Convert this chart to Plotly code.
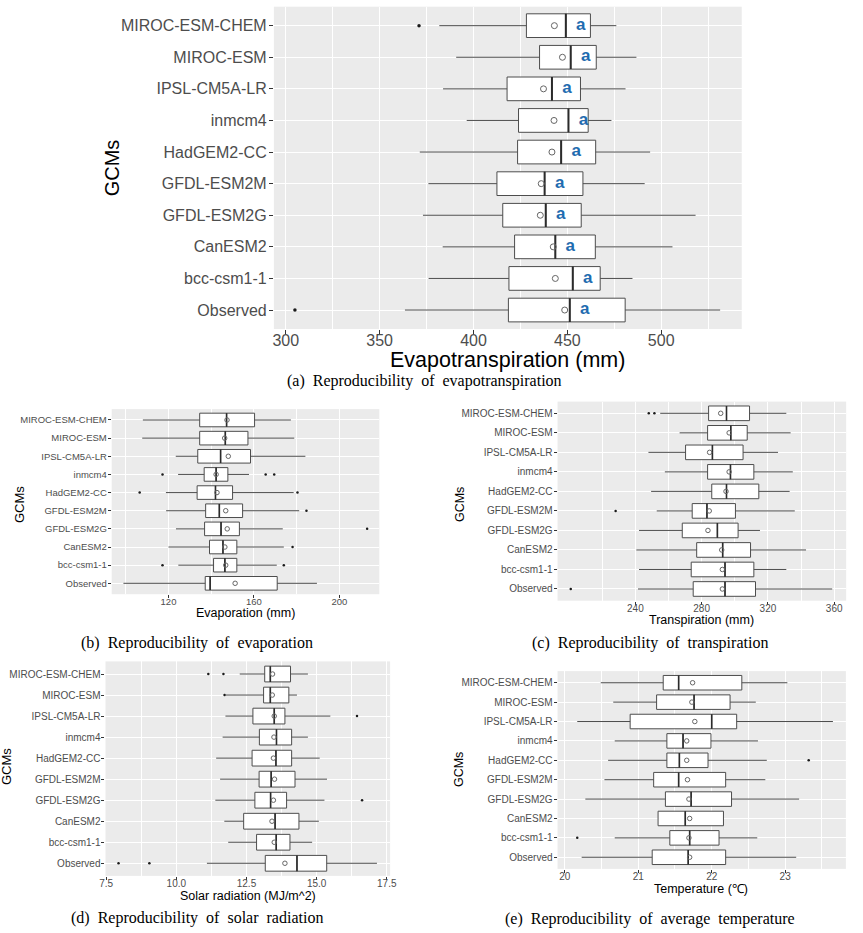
import plotly.graph_objects as go

W, H = 863, 933

# Categories, bottom -> top
gcms = ["Observed", "bcc-csm1-1", "CanESM2", "GFDL-ESM2G", "GFDL-ESM2M",
        "HadGEM2-CC", "inmcm4", "IPSL-CM5A-LR", "MIROC-ESM", "MIROC-ESM-CHEM"]

# (a) Evapotranspiration (mm)
et_low = [363.5, 376.1, 383.6, 373.1, 376.0, 371.4, 396.4, 383.8, 390.8, 381.8]
et_q1 = [418.6, 418.9, 421.9, 415.6, 412.5, 423.5, 424.0, 417.9, 435.2, 428.2]
et_med = [451.3, 452.9, 443.6, 438.5, 437.9, 446.7, 450.6, 441.8, 451.8, 449.2]
et_q3 = [480.8, 467.5, 464.9, 457.4, 458.3, 465.1, 461.1, 457.0, 465.4, 462.3]
et_high = [531.4, 484.7, 506.0, 518.3, 491.2, 494.1, 473.5, 481.0, 486.8, 476.1]
et_mean = [448.6, 443.6, 442.5, 435.6, 436.1, 441.8, 442.9, 437.3, 447.4, 443.1]
et_out_gcm = ["MIROC-ESM-CHEM", "Observed"]
et_out_val = [371.0, 304.9]
et_letters = ["a"] * 10

# (b) Evaporation (mm)
ev_low = [98.9, 124.6, 120.0, 123.5, 118.9, 118.8, 124.5, 123.4, 107.7, 108.0]
ev_q1 = [137.2, 141.1, 139.2, 136.9, 137.4, 133.4, 136.7, 133.7, 134.6, 134.6]
ev_med = [139.5, 146.4, 145.5, 144.6, 143.8, 142.0, 142.3, 144.4, 146.6, 147.2]
ev_q3 = [170.9, 152.0, 152.0, 153.2, 154.7, 150.0, 147.8, 158.4, 157.2, 160.3]
ev_high = [189.5, 170.7, 174.0, 173.5, 181.2, 178.6, 157.7, 184.1, 178.9, 177.3]
ev_mean = [151.2, 146.8, 146.4, 147.5, 146.8, 142.7, 142.3, 148.0, 146.3, 147.4]
ev_out_gcm = ["bcc-csm1-1", "bcc-csm1-1", "CanESM2", "GFDL-ESM2G", "GFDL-ESM2M",
              "HadGEM2-CC", "HadGEM2-CC", "inmcm4", "inmcm4", "inmcm4"]
ev_out_val = [117.2, 174.0, 178.1, 213.0, 184.6, 106.5, 180.4, 117.2, 165.5, 169.5]

# (c) Transpiration (mm)
tr_low = [241.6, 242.2, 240.6, 242.2, 252.9, 249.5, 257.8, 247.9, 266.7, 255.0]
tr_q1 = [274.9, 273.7, 277.0, 268.3, 274.3, 286.1, 283.6, 270.3, 283.6, 284.2]
tr_med = [294.1, 294.1, 292.7, 289.5, 283.2, 295.0, 297.4, 286.5, 297.6, 295.0]
tr_q3 = [312.5, 311.5, 309.5, 302.0, 300.4, 314.5, 311.5, 305.0, 307.5, 308.9]
tr_high = [358.8, 331.1, 343.0, 315.2, 336.2, 333.1, 335.0, 326.1, 333.7, 331.1]
tr_mean = [292.5, 292.5, 292.1, 283.8, 284.6, 294.7, 296.6, 284.8, 296.6, 291.5]
tr_out_gcm = ["Observed", "GFDL-ESM2M", "MIROC-ESM-CHEM", "MIROC-ESM-CHEM"]
tr_out_val = [201.0, 228.1, 248.1, 251.5]

# (d) Solar radiation (MJ/m^2)
sr_low = [11.09, 11.85, 11.71, 11.39, 11.56, 11.42, 11.65, 11.75, 11.76, 12.26]
sr_q1 = [13.17, 12.86, 12.40, 12.80, 12.95, 12.70, 12.96, 12.73, 13.11, 13.15]
sr_med = [14.30, 13.56, 13.52, 13.36, 13.38, 13.55, 13.57, 13.49, 13.35, 13.35]
sr_q3 = [15.36, 14.05, 14.37, 13.93, 14.23, 14.11, 14.11, 13.87, 14.01, 14.07]
sr_high = [17.15, 14.84, 15.08, 15.28, 15.37, 15.11, 14.69, 15.49, 14.30, 14.69]
sr_mean = [13.87, 13.49, 13.41, 13.46, 13.50, 13.46, 13.48, 13.49, 13.42, 13.43]
sr_out_gcm = ["Observed", "Observed", "GFDL-ESM2G", "IPSL-CM5A-LR", "MIROC-ESM",
              "MIROC-ESM-CHEM", "MIROC-ESM-CHEM"]
sr_out_val = [7.94, 9.04, 16.62, 16.44, 11.72, 11.14, 11.68]

# (e) Average temperature (deg C)
tm_low = [20.23, 20.68, 21.27, 20.28, 20.54, 20.59, 20.68, 20.17, 20.66, 20.49]
tm_q1 = [21.19, 21.43, 21.27, 21.37, 21.21, 21.39, 21.39, 20.89, 21.25, 21.34]
tm_med = [21.68, 21.70, 21.64, 21.72, 21.55, 21.56, 21.61, 22.00, 21.76, 21.55]
tm_q3 = [22.19, 22.10, 22.16, 22.27, 22.19, 21.95, 21.99, 22.34, 22.25, 22.41]
tm_high = [23.15, 22.62, 22.16, 23.19, 22.73, 22.75, 22.63, 23.65, 22.60, 23.03]
tm_mean = [21.70, 21.69, 21.70, 21.69, 21.67, 21.66, 21.66, 21.77, 21.73, 21.74]
tm_out_gcm = ["bcc-csm1-1", "HadGEM2-CC"]
tm_out_val = [20.17, 23.32]

et_ticks = [300, 350, 400, 450, 500]
ev_ticks = [120, 160, 200]
tr_ticks = [240, 280, 320, 360]
sr_ticks = [7.5, 10.0, 12.5, 15.0, 17.5]
tm_ticks = [20, 21, 22, 23]

panels = [
    dict(low=et_low, q1=et_q1, med=et_med, q3=et_q3, high=et_high, mean=et_mean,
         og=et_out_gcm, ov=et_out_val, ticks=et_ticks, fmt="",
         px=(272, 747, 6.7, 329), rng=[293.7, 542.9], tfs=16, tl=4, so=-7,
         msize=6, osize=3.5, medw=2),
    dict(low=ev_low, q1=ev_q1, med=ev_med, q3=ev_q3, high=ev_high, mean=ev_mean,
         og=ev_out_gcm, ov=ev_out_val, ticks=ev_ticks, fmt="",
         px=(107.3, 379, 409.1, 594.2), rng=[93.4, 218.7], tfs=9.5, tl=3, so=-5,
         msize=4.5, osize=2.5, medw=1.6),
    dict(low=tr_low, q1=tr_q1, med=tr_med, q3=tr_q3, high=tr_high, mean=tr_mean,
         og=tr_out_gcm, ov=tr_out_val, ticks=tr_ticks, fmt="",
         px=(560, 853, 401.6, 600.7), rng=[193.06, 367.2], tfs=10, tl=3, so=-5,
         msize=4.5, osize=2.5, medw=1.6),
    dict(low=sr_low, q1=sr_q1, med=sr_med, q3=sr_q3, high=sr_high, mean=sr_mean,
         og=sr_out_gcm, ov=sr_out_val, ticks=sr_ticks, fmt=".1f",
         px=(101, 390, 661.4, 875.9), rng=[7.475, 17.62], tfs=10, tl=3, so=-5,
         msize=4.5, osize=2.5, medw=1.6),
    dict(low=tm_low, q1=tm_q1, med=tm_med, q3=tm_q3, high=tm_high, mean=tm_mean,
         og=tm_out_gcm, ov=tm_out_val, ticks=tm_ticks, fmt="",
         px=(560, 852.7, 671.1, 868.9), rng=[19.902, 23.826], tfs=10, tl=3, so=-5,
         msize=4.5, osize=2.5, medw=1.6),
]

SANS = "Liberation Sans, Arial, sans-serif"
SERIF = "Liberation Serif, Times New Roman, serif"
BOX_LINE = "#4D4D4D"
pos = list(range(len(gcms)))
half = 0.375

fig = go.Figure()
layout = dict(width=W, height=H, margin=dict(l=0, r=0, t=0, b=0),
              paper_bgcolor="white", plot_bgcolor="#EBEBEB",
              showlegend=False, annotations=[])

for k, p in enumerate(panels):
    s = "" if k == 0 else str(k + 1)
    xa, ya = "x" + s, "y" + s
    x0, x1, y0, y1 = p["px"]
    fig.add_trace(go.Box(
        y=pos, q1=p["q1"], median=p["med"], q3=p["q3"],
        lowerfence=p["low"], upperfence=p["high"], orientation="h",
        width=0.75, fillcolor="white", line=dict(color=BOX_LINE, width=1),
        whiskerwidth=0, boxpoints=False, xaxis=xa, yaxis=ya, hoverinfo="skip"))
    # thicker median lines (ggplot style)
    mx, my = [], []
    for m, yy in zip(p["med"], pos):
        mx += [m, m, None]
        my += [yy - half, yy + half, None]
    fig.add_trace(go.Scatter(x=mx, y=my, mode="lines",
                             line=dict(color="#2B2B2B", width=p["medw"]),
                             xaxis=xa, yaxis=ya, hoverinfo="skip"))
    # means
    fig.add_trace(go.Scatter(x=p["mean"], y=pos, mode="markers",
                             marker=dict(symbol="circle-open", size=p["msize"],
                                         color="#666666", line=dict(width=1)),
                             xaxis=xa, yaxis=ya, hoverinfo="skip"))
    # outliers
    fig.add_trace(go.Scatter(x=p["ov"], y=[gcms.index(g) for g in p["og"]],
                             mode="markers",
                             marker=dict(symbol="circle", size=p["osize"], color="#1A1A1A"),
                             xaxis=xa, yaxis=ya, hoverinfo="skip"))
    step = p["ticks"][1] - p["ticks"][0]
    minor = [p["ticks"][0] - step / 2] + [t + step / 2 for t in p["ticks"]]
    layout["xaxis" + s] = dict(
        domain=[x0 / W, x1 / W], range=p["rng"], anchor=ya,
        tickmode="array", tickvals=p["ticks"], tickformat=p["fmt"],
        showgrid=True, gridcolor="white", gridwidth=1.1, zeroline=False,
        minor=dict(tickmode="array", tickvals=minor, showgrid=True,
                   gridcolor="white", gridwidth=0.5, ticks=""),
        ticks="outside", ticklen=p["tl"], tickcolor="#333333", tickwidth=1,
        ticklabelstandoff=p["so"],
        tickfont=dict(family=SANS, size=p["tfs"], color="#4D4D4D"),
        showline=False, fixedrange=True)
    layout["yaxis" + s] = dict(
        domain=[1 - y1 / H, 1 - y0 / H], range=[-0.6, len(gcms) - 0.4], anchor=xa,
        tickmode="array", tickvals=pos, ticktext=gcms,
        showgrid=True, gridcolor="white", gridwidth=1.1, zeroline=False,
        ticks="outside", ticklen=p["tl"], tickcolor="#333333", tickwidth=1,
        ticklabelstandoff=-1,
        tickfont=dict(family=SANS, size=p["tfs"], color="#4D4D4D"),
        showline=False, fixedrange=True)

# significance letters in panel (a)
fig.add_trace(go.Scatter(x=[m + 8 for m in et_med], y=pos, mode="text",
                         text=et_letters,
                         textfont=dict(family=SANS, size=17, color="#1F6CB0",
                                       weight="bold"),
                         xaxis="x", yaxis="y", hoverinfo="skip"))


def ann(text, x, y, size, color="black", family=SANS, angle=0):
    layout["annotations"].append(dict(
        text=text, x=x / W, y=1 - y / H, xref="paper", yref="paper",
        showarrow=False, xanchor="center", yanchor="middle",
        font=dict(family=family, size=size, color=color), textangle=angle))


sp = "\u00a0\u00a0"
# axis titles
ann("Evapotranspiration (mm)", 509.5, 359.5, 21.5)
ann("GCMs", 108, 168, 20, angle=-90)
ann("Evaporation (mm)", 243, 612.5, 12.5)
ann("GCMs", 13.3, 505, 13, angle=-90)
ann("Transpiration (mm)", 706.5, 619.5, 12.5)
ann("GCMs", 461, 505, 12.5, angle=-90)
ann("Solar radiation (MJ/m^2)", 245.5, 896, 12.5)
ann("GCMs", 0, 767, 13, angle=-90)
ann("Temperature (\u2103)", 706, 889, 12.5)
ann("GCMs", 460, 770, 12.5, angle=-90)
# captions
ann(sp.join(["(a)", "Reproducibility", "of", "evapotranspiration"]), 425, 381.5, 16, family=SERIF)
ann(sp.join(["(b)", "Reproducibility", "of", "evaporation"]), 194, 643, 16, family=SERIF)
ann(sp.join(["(c)", "Reproducibility", "of", "transpiration"]), 654, 643, 16, family=SERIF)
ann(sp.join(["(d)", "Reproducibility", "of", "solar", "radiation"]), 193.5, 918, 16, family=SERIF)
ann(sp.join(["(e)", "Reproducibility", "of", "average", "temperature"]), 653.5, 919, 16, family=SERIF)

fig.update_layout(**layout)
fig.write_html("out.html", config={"displayModeBar": False},
               post_script="document.body.style.margin='0px';document.body.style.overflow='hidden';")
